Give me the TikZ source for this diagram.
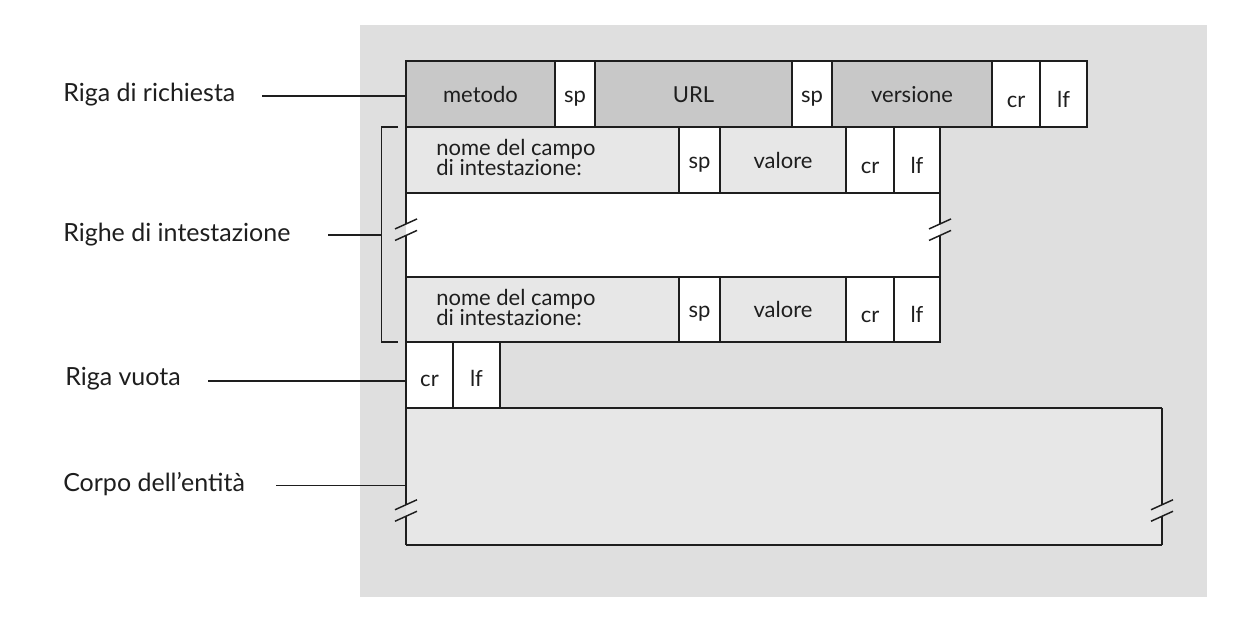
\documentclass[tikz,border=0pt]{standalone}
\usepackage{fontspec}
\setmainfont{Lato}
\usetikzlibrary{calc}
\definecolor{bgc}{HTML}{DFDFDF}
\definecolor{darkc}{HTML}{C8C8C8}
\definecolor{lightc}{HTML}{E7E7E7}
\definecolor{linec}{HTML}{1E1E1E}
\newcommand\mkcell[6]{%
  \node[cellbox, fill=#6, minimum width={(#4-#2)*0.75pt}, minimum height={(#5-#3)*0.75pt}] (#1) at ({(#2+#4)/2},{(#3+#5)/2}) {};}
\newcommand\mkbreak[2]{%
  \draw[brk] ({#1-11},{#2-0.75}) -- ({#1+11},{#2-10.75});
  \draw[brk] ({#1-11},{#2+10.75}) -- ({#1+11},{#2+0.75});}
\begin{document}
\begin{tikzpicture}[x=0.75pt,y=-0.75pt,
  cellbox/.style={draw=linec, line width=1.2pt, inner sep=0pt, outer sep=0pt},
  fillonly/.style={draw=none, inner sep=0pt, outer sep=0pt},
  edge/.style={draw=linec, line width=1.2pt},
  brk/.style={draw=linec, line width=1.1pt},
  celltxt/.style={font=\fontsize{16.5}{15}\selectfont, anchor=base, inner sep=0pt, text=linec},
  celltxtl/.style={font=\fontsize{16.5}{15}\selectfont, anchor=base west, inner sep=0pt, text=linec},
  labtxt/.style={font=\fontsize{18.75}{22}\selectfont, anchor=base west, inner sep=0pt, text=linec},
  thickleader/.style={draw=linec, line width=1.5pt},
  thinleader/.style={draw=linec, line width=0.8pt},
  bracket/.style={draw=linec, line width=0.9pt}]
\useasboundingbox (0,0) rectangle (1236,619);
\fill[bgc] (360,25) rectangle (1207,597);

% fills of the blank header area and the body
\node[fillonly, fill=white, minimum width={534*0.75pt}, minimum height={84*0.75pt}] (blank) at (673,235) {};
\node[fillonly, fill=lightc, minimum width={756*0.75pt}, minimum height={137*0.75pt}] (body) at (784,476.5) {};

% request line
\mkcell{metodo}{406}{61}{555}{127}{darkc}
\mkcell{spA}{555}{61}{595}{127}{white}
\mkcell{url}{595}{61}{792}{127}{darkc}
\mkcell{spB}{792}{61}{832}{127}{white}
\mkcell{vers}{832}{61}{992}{127}{darkc}
\mkcell{crA}{992}{61}{1040}{127}{white}
\mkcell{lfA}{1040}{61}{1087}{127}{white}
% header line 1
\mkcell{nomeA}{406}{127}{679}{193}{lightc}
\mkcell{spC}{679}{127}{720}{193}{white}
\mkcell{valA}{720}{127}{846}{193}{lightc}
\mkcell{crB}{846}{127}{894}{193}{white}
\mkcell{lfB}{894}{127}{940}{193}{white}
% header line 2
\mkcell{nomeB}{406}{277}{679}{342}{lightc}
\mkcell{spD}{679}{277}{720}{342}{white}
\mkcell{valB}{720}{277}{846}{342}{lightc}
\mkcell{crC}{846}{277}{894}{342}{white}
\mkcell{lfC}{894}{277}{940}{342}{white}
% blank line
\mkcell{crD}{406}{342}{453}{408}{white}
\mkcell{lfD}{453}{342}{500}{408}{white}

% edges of the blank header area with break marks
\draw[edge] (406,193) -- (406,224.2);
\draw[edge] (406,235.2) -- (406,277);
\draw[edge] (940,193) -- (940,224.2);
\draw[edge] (940,235.2) -- (940,277);
\mkbreak{406}{229.7}
\mkbreak{940}{229.7}

% edges of the body with break marks
\draw[edge] (406,408) -- (1162,408);
\draw[edge] (406,545) -- (1162,545);
\draw[edge] (406,408) -- (406,505);
\draw[edge] (406,516) -- (406,545);
\draw[edge] (1162,408) -- (1162,505);
\draw[edge] (1162,516) -- (1162,545);
\mkbreak{406}{510.5}
\mkbreak{1162}{510.5}

% texts in the cells
\node[celltxt] at ($(metodo.center)+(0,8)$) {metodo};
\node[celltxt] at ($(spA.center)+(0,8)$) {sp};
\node[celltxt] at ($(url.center)+(0,8)$) {URL};
\node[celltxt] at ($(spB.center)+(0,8)$) {sp};
\node[celltxt] at ($(vers.center)+(0,8)$) {versione};
\node[celltxt] at ($(crA.center)+(0,13)$) {cr};
\node[celltxt] at ($(lfA.center)+(0,13)$) {lf};

\node[celltxtl] at (436,155) {nome del campo};
\node[celltxtl] at (436,175) {di intestazione:};
\node[celltxt] at ($(spC.center)+(0,8)$) {sp};
\node[celltxt] at ($(valA.center)+(0,8)$) {valore};
\node[celltxt] at ($(crB.center)+(0,13)$) {cr};
\node[celltxt] at ($(lfB.center)+(0,13)$) {lf};

\node[celltxtl] at (436,305) {nome del campo};
\node[celltxtl] at (436,325) {di intestazione:};
\node[celltxt] at ($(spD.center)+(0,8)$) {sp};
\node[celltxt] at ($(valB.center)+(0,8)$) {valore};
\node[celltxt] at ($(crC.center)+(0,13)$) {cr};
\node[celltxt] at ($(lfC.center)+(0,13)$) {lf};

\node[celltxt] at ($(crD.center)+(0,11)$) {cr};
\node[celltxt] at ($(lfD.center)+(0,11)$) {lf};

% bracket of the header lines
\draw[bracket] (398,127) -- (381.5,127) -- (381.5,342) -- (398,342);

% labels and leaders
\node[labtxt] (labA) at (63,101.7) {Riga di richiesta};
\node[labtxt] (labB) at (63,241.7) {Righe di intestazione};
\node[labtxt] (labC) at (65,385) {Riga vuota};
\node[labtxt] (labD) at (63,491) {Corpo dell’entità};

\coordinate (lA) at (262,95.5);
\coordinate (lB) at (328,235);
\coordinate (lBe) at (381.5,235);
\coordinate (lC) at (208,380.5);
\coordinate (lD) at (276,485.5);
\draw[thickleader] (lA) -- (metodo.west |- lA);
\draw[thinleader] (lB) -- (lBe);
\draw[thickleader] (lC) -- (crD.west |- lC);
\draw[thinleader] (lD) -- (body.west |- lD);
\end{tikzpicture}
\end{document}
